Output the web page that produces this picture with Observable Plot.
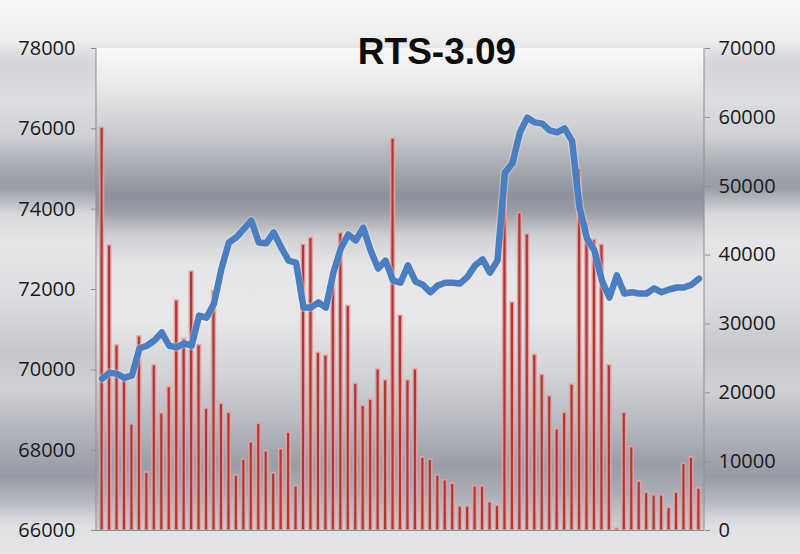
<!DOCTYPE html>
<html>
<head>
<meta charset="utf-8">
<script src="https://cdn.jsdelivr.net/npm/d3@7"></script>
<script src="https://cdn.jsdelivr.net/npm/@observablehq/plot@0.6"></script>
<style>
  html, body { margin: 0; padding: 0; }
  body {
    width: 800px; height: 554px; overflow: hidden;
    background: linear-gradient(to bottom,
      #f6f6f6 0px, #eeeeef 40px, #d4d5d8 62px, #dddee1 100px, #d0d1d5 135px,
      #a2a5ad 172px, #9a9da6 188px, #d9dadd 215px, #e6e6e8 245px, #dcdde0 300px,
      #c6c7cc 350px, #cfd0d4 390px, #b3b5bc 430px, #979aa4 476px, #b5b7be 500px,
      #dfe0e2 525px, #e6e6e8 554px);
  }
  #wrap { position: relative; width: 800px; height: 554px; }
  #title {
    position: absolute; left: 287px; top: 33px; width: 300px; margin: 0;
    text-align: center; font: bold 37px/37px "Liberation Sans", Arial, sans-serif;
    color: #0d0d0d;
  }
  svg { display: block; }
</style>
</head>
<body>
<div id="wrap"><h1 id="title">RTS-3.09</h1></div>
<script>
// Left axis (price) and right axis (volume) tick labels
const priceTicks = [66000, 68000, 70000, 72000, 74000, 76000, 78000];
const volumeTicks = [0, 10000, 20000, 30000, 40000, 50000, 60000, 70000];

// Traded volume per session (red bars, right axis)
const volume = [
  58500, 41400, 26900, 22000, 15400, 28200, 8400, 24000, 17000, 20800,
  33400, 27800, 37600, 26900, 17700, 34800, 18400, 17100, 8000, 10300,
  12800, 15500, 11500, 8300, 11800, 14200, 6400, 41500, 42500, 25800,
  25400, 37000, 43200, 32600, 21300, 18100, 19000, 23400, 21800, 56900,
  31200, 21800, 23400, 10600, 10300, 8000, 7300, 6800, 3500, 3500,
  6400, 6400, 4100, 3600, 49000, 33100, 46100, 43000, 25500, 22600,
  19500, 14700, 17100, 21200, 52500, 44700, 42200, 41500, 24000, 300,
  17100, 12100, 7100, 5500, 5100, 5100, 3300, 5500, 9700, 10600,
  6100
];

// Futures price per session (blue line, left axis)
const price = [
  69780, 69930, 69900, 69800, 69860, 70530, 70600, 70730, 70930, 70600,
  70560, 70660, 70600, 71350, 71300, 71650, 72520, 73170, 73300, 73510,
  73720, 73170, 73150, 73420, 73050, 72720, 72670, 71550, 71550, 71680,
  71550, 72420, 73020, 73370, 73220, 73540, 72970, 72520, 72720, 72220,
  72170, 72600, 72200, 72120, 71930, 72100, 72170, 72170, 72150, 72320,
  72600, 72750, 72420, 72720, 74910, 75140, 75910, 76280, 76160, 76130,
  75960, 75910, 76010, 75700, 74040, 73270, 72970, 72220, 71800, 72350,
  71900, 71930, 71900, 71900, 72030, 71930, 72000, 72050, 72050, 72120,
  72270
];

const sessions = volume.map((_, i) => i + 1);

// map price onto the volume axis (left 66000..78000 <-> right 0..70000)
const toVol = p => (p - 66000) * 70000 / 12000;
const toPrice = v => Math.round(66000 + v * 12000 / 70000);

const rows = sessions.map((s, i) => ({s, vol: volume[i], pv: toVol(price[i])}));

function backdrop(index, scales, values, dims) {
  const {width, height, marginLeft, marginRight, marginTop, marginBottom} = dims;
  const g = d3.create("svg:g");
  const grad = g.append("defs").append("linearGradient")
    .attr("id", "plotBg").attr("x1", 0).attr("y1", 0).attr("x2", 0).attr("y2", 1);
  [[0, "#f8f8f8"], [0.07, "#ececed"], [0.13, "#d9dadc"], [0.19, "#c4c6ca"],
   [0.25, "#a6a9b1"], [0.305, "#8e919b"], [0.34, "#9b9ea7"], [0.39, "#cfd0d4"],
   [0.45, "#e6e6e8"], [0.56, "#e8e8ea"], [0.67, "#d3d4d7"], [0.77, "#babcc2"],
   [0.865, "#9a9da6"], [0.92, "#a9acb3"], [1, "#d0d1d4"]]
    .forEach(([o, c]) => grad.append("stop").attr("offset", o).attr("stop-color", c));
  const x0 = marginLeft, x1 = width - marginRight, y0 = marginTop, y1 = height - marginBottom;
  g.append("rect").attr("x", x0).attr("y", y0).attr("width", x1 - x0).attr("height", y1 - y0)
    .attr("fill", "url(#plotBg)");
  g.append("line").attr("x1", x0).attr("x2", x0).attr("y1", y0).attr("y2", y1)
    .attr("stroke", "#8f8f93").attr("stroke-width", 1);
  g.append("line").attr("x1", x1).attr("x2", x1).attr("y1", y0).attr("y2", y1)
    .attr("stroke", "#8f8f93").attr("stroke-width", 1);
  return g.node();
}

const chart = Plot.plot({
  width: 800,
  height: 554,
  marginLeft: 96,
  marginRight: 96,
  marginTop: 48,
  marginBottom: 24,
  style: {background: "transparent", fontFamily: "'Open Sans', sans-serif", fontSize: "20px", color: "#1a1a1a"},
  x: {type: "band", domain: sessions, padding: 0.5, axis: null},
  y: {domain: [0, 70000], axis: null},
  marks: [
    backdrop,
    Plot.barY(rows, {x: "s", y: "vol", fill: "#a83a3b", stroke: "#eba5a4", strokeWidth: 1.6, strokeOpacity: 0.85}),
    Plot.line(rows, {x: "s", y: "pv", stroke: "#eef2f8", strokeWidth: 9, strokeOpacity: 0.35, strokeLinejoin: "round", strokeLinecap: "round"}),
    Plot.line(rows, {x: "s", y: "pv", stroke: "#4a7ec0", strokeWidth: 6.5, strokeLinejoin: "round", strokeLinecap: "round"}),
    Plot.ruleY([0], {stroke: "#8f8f93"}),
    Plot.axisY(volumeTicks, {anchor: "right", tickSize: 5, tickPadding: 9, stroke: "#8f8f93",
      tickFormat: d => String(d), fontSize: 20, fill: "#1a1a1a"}),
    Plot.axisY(priceTicks.map(toVol), {anchor: "left", tickSize: 5, tickPadding: 16, stroke: "#8f8f93",
      tickFormat: v => String(toPrice(v)), fontSize: 20, fill: "#1a1a1a"})
  ]
});

document.getElementById("wrap").prepend(chart);
</script>
</body>
</html>
